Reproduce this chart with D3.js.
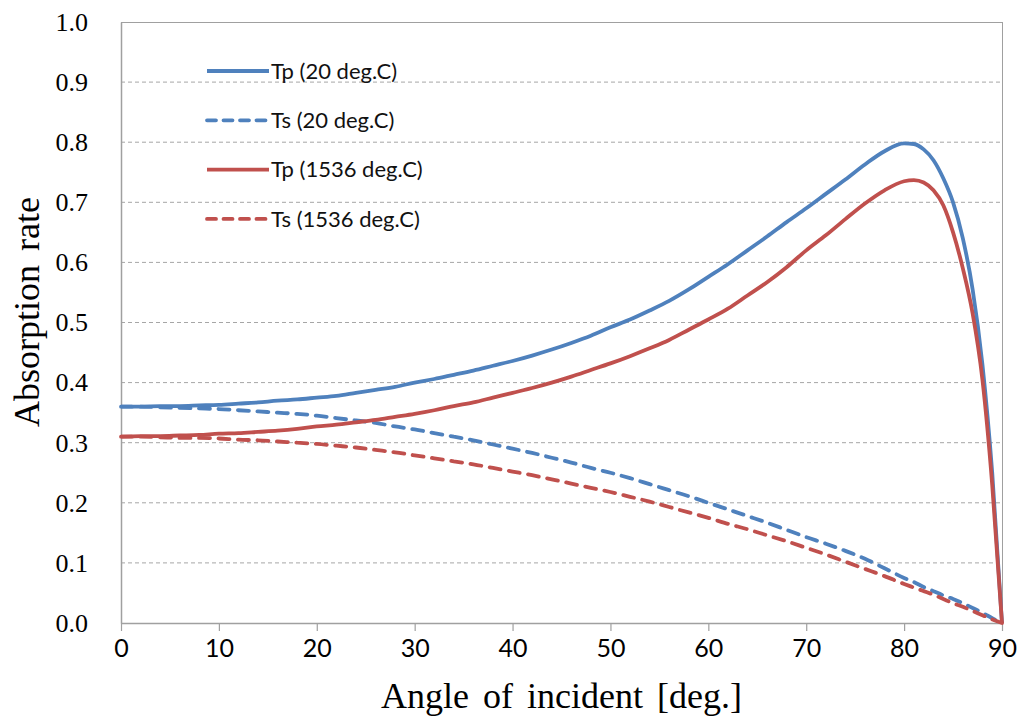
<!DOCTYPE html>
<html><head><meta charset="utf-8">
<script src="https://cdn.jsdelivr.net/npm/d3@7"></script>
<style>body{margin:0;background:#fff}</style>
</head><body>
<svg id="c" width="1022" height="722"></svg>
<script>
// Data
const angles = [0,2,4,6,8,10,12,14,16,18,20,22,24,26,28,30,32,34,36,38,40,42,44,46,48,50,52,54,56,58,60,62,64,66,68,70,72,74,76,78,80,81,82,83,84,85,86,87,88,89,90];
const tp20 =   [0.360,0.360,0.361,0.361,0.362,0.363,0.365,0.367,0.370,0.372,0.375,0.378,0.383,0.388,0.393,0.400,0.406,0.413,0.420,0.428,0.436,0.445,0.455,0.466,0.478,0.492,0.505,0.520,0.536,0.555,0.576,0.597,0.620,0.643,0.667,0.690,0.714,0.738,0.763,0.785,0.798,0.797,0.788,0.770,0.740,0.700,0.640,0.555,0.430,0.250,0.000];
const ts20 =   [0.360,0.360,0.359,0.358,0.357,0.356,0.354,0.352,0.350,0.348,0.345,0.341,0.337,0.333,0.327,0.322,0.316,0.310,0.304,0.297,0.290,0.283,0.275,0.267,0.258,0.250,0.241,0.231,0.221,0.211,0.200,0.189,0.178,0.167,0.155,0.143,0.132,0.120,0.107,0.091,0.075,0.068,0.060,0.053,0.046,0.040,0.033,0.025,0.017,0.008,0.000];
const tp1536 = [0.310,0.311,0.311,0.312,0.313,0.315,0.316,0.318,0.320,0.323,0.327,0.330,0.334,0.338,0.343,0.348,0.354,0.361,0.367,0.375,0.383,0.391,0.400,0.410,0.421,0.432,0.444,0.457,0.471,0.488,0.505,0.523,0.545,0.567,0.592,0.620,0.645,0.672,0.698,0.720,0.735,0.737,0.733,0.720,0.695,0.650,0.590,0.515,0.405,0.230,0.000];
const ts1536 = [0.310,0.310,0.309,0.308,0.308,0.307,0.305,0.304,0.302,0.300,0.298,0.295,0.292,0.288,0.284,0.279,0.274,0.269,0.264,0.258,0.252,0.246,0.239,0.232,0.225,0.218,0.210,0.202,0.193,0.184,0.175,0.165,0.156,0.146,0.136,0.125,0.114,0.102,0.090,0.078,0.065,0.059,0.053,0.047,0.040,0.033,0.027,0.020,0.013,0.006,0.000];
const xTicks = [0,10,20,30,40,50,60,70,80,90];
const yTicks = [0.0,0.1,0.2,0.3,0.4,0.5,0.6,0.7,0.8,0.9,1.0];
const seriesNames = ["Tp (20 deg.C)","Ts (20 deg.C)","Tp (1536 deg.C)","Ts (1536 deg.C)"];
const seriesValues = [tp20, ts20, tp1536, ts1536];
const seriesColors = ["#4F81BD","#4F81BD","#C0504D","#C0504D"];
const seriesDashed = [false,true,false,true];

const svg = d3.select("#c");
const L=121, R=1002, T=22, B=623;
const x = d3.scaleLinear().domain([0,90]).range([L,R]);
const y = d3.scaleLinear().domain([0,1]).range([B,T]);
const axisColor = "#A0A0A0";
const dash = "11,8.5";

// gridlines
svg.append("g").selectAll("line").data(yTicks.filter(v=>v>0 && v<1)).join("line")
  .attr("x1",L).attr("x2",R).attr("y1",d=>y(d)).attr("y2",d=>y(d))
  .attr("stroke","#A6A6A6").attr("stroke-width",1).attr("stroke-dasharray","4,3");

// box
svg.append("line").attr("x1",L).attr("x2",R).attr("y1",T+0.5).attr("y2",T+0.5).attr("stroke",axisColor);
svg.append("line").attr("x1",R+0.5).attr("x2",R+0.5).attr("y1",T).attr("y2",B).attr("stroke",axisColor);

// x axis
const gx = svg.append("g").attr("transform",`translate(0,${B})`)
  .call(d3.axisBottom(x).tickValues(xTicks).tickSize(8).tickSizeOuter(0).tickPadding(8).tickFormat(d3.format("d")));
gx.select(".domain").attr("stroke",axisColor).attr("stroke-width",1.5);
gx.selectAll(".tick line").attr("stroke",axisColor).attr("stroke-width",1.2);
gx.selectAll(".tick text").attr("font-family","Lato, 'Open Sans', sans-serif").attr("font-size",25).attr("fill","#000");

// y axis
const gy = svg.append("g").attr("transform",`translate(${L},0)`)
  .call(d3.axisLeft(y).tickValues(yTicks).tickSize(0).tickPadding(33).tickFormat(d3.format(".1f")));
gy.select(".domain").attr("stroke",axisColor).attr("stroke-width",1.5);
gy.selectAll(".tick text").attr("font-family","'Liberation Serif', 'Times New Roman', serif").attr("font-size",26).attr("fill","#000");

// lines
const line = d3.line().x((d,i)=>x(angles[i])).y(d=>y(d)).curve(d3.curveMonotoneX);
seriesValues.forEach((vals,k)=>{
  svg.append("path").datum(vals).attr("d",line).attr("fill","none")
    .attr("stroke",seriesColors[k]).attr("stroke-width",3.8)
    .attr("stroke-linecap", seriesDashed[k] ? "round" : "butt")
    .attr("stroke-dasharray", seriesDashed[k] ? dash : null);
});

// legend
const lg = svg.append("g");
seriesNames.forEach((n,k)=>{
  const yy = 71 + k*49.3;
  lg.append("line").attr("x1",207).attr("x2",269).attr("y1",yy).attr("y2",yy)
    .attr("stroke",seriesColors[k]).attr("stroke-width",3.8)
    .attr("stroke-linecap", seriesDashed[k] ? "round" : "butt")
    .attr("stroke-dasharray", seriesDashed[k] ? "9,7.5" : null);
  lg.append("text").attr("x",271).attr("y",yy).attr("dy","0.35em")
    .attr("font-family","Lato, 'Open Sans', sans-serif").attr("font-size",22).attr("fill","#111").text(n);
});

// axis titles
svg.append("text").attr("x",(L+R)/2).attr("y",708).attr("text-anchor","middle")
  .attr("font-family","'Liberation Serif', 'Times New Roman', serif").attr("font-size",36)
  .attr("word-spacing",5).attr("fill","#000")
  .text("Angle of incident [deg.]");
svg.append("text").attr("transform",`translate(39,312) rotate(-90)`).attr("text-anchor","middle")
  .attr("font-family","'Liberation Serif', 'Times New Roman', serif").attr("font-size",36)
  .attr("word-spacing",5).attr("fill","#000")
  .text("Absorption rate");
</script>
</body></html>
